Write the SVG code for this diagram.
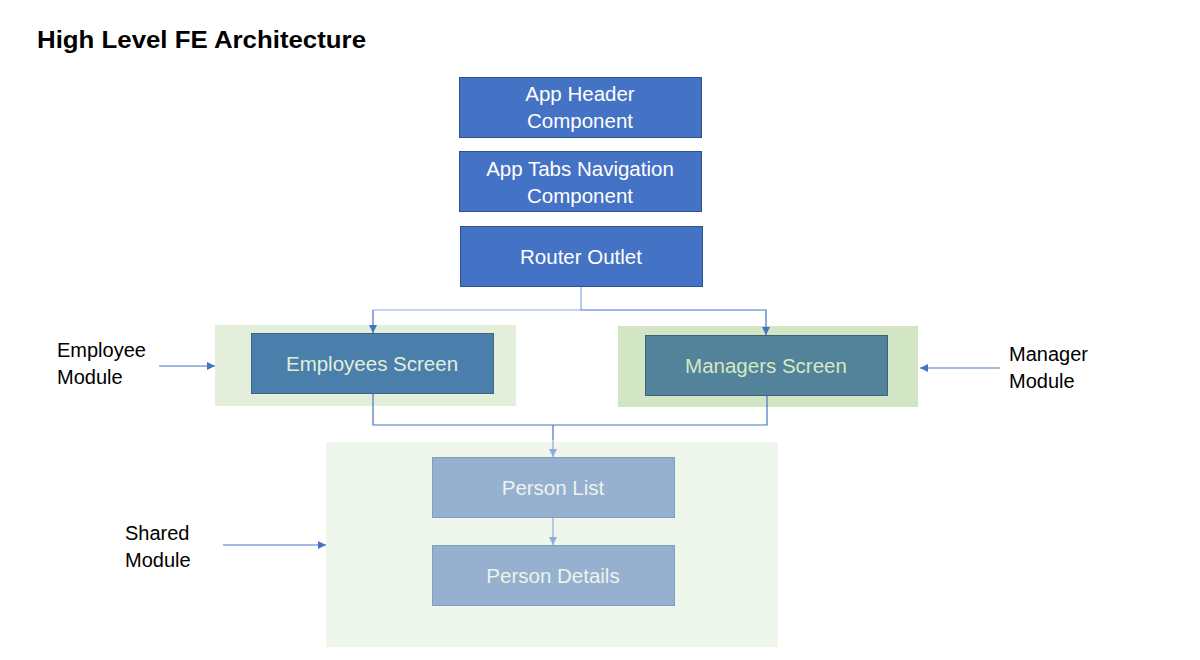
<svg xmlns="http://www.w3.org/2000/svg" width="1200" height="660" viewBox="0 0 1200 660">
<style>
text{font-family:"Liberation Sans","Noto Sans",Arial,sans-serif}
.title{font-size:24px;font-weight:bold;fill:#000}
.lbl{font-size:20px;fill:#000}
.bt{font-size:20.5px;fill:#fff;text-anchor:middle}
.top{fill:#4472C4;stroke:#2F528F;stroke-width:1}
.con{fill:none;stroke:#4472C4;stroke-width:1.2}
.conl{fill:none;stroke:#8FAADC;stroke-width:1.2}
</style>
<defs>
<marker id="ah" viewBox="0 0 10 10" refX="10" refY="5" markerWidth="8" markerHeight="8" markerUnits="userSpaceOnUse" orient="auto"><path d="M0,0L10,5L0,10z" fill="#4472C4"/></marker>
<marker id="ahl" viewBox="0 0 10 10" refX="10" refY="5" markerWidth="8" markerHeight="8" markerUnits="userSpaceOnUse" orient="auto"><path d="M0,0L10,5L0,10z" fill="#8FAADC"/></marker>
</defs>
<rect width="1200" height="660" fill="#fff"/>
<text class="title" x="37" y="48" textLength="329" lengthAdjust="spacingAndGlyphs">High Level FE Architecture</text>

<g id="employee-module">
<rect x="215" y="325" width="301" height="81" fill="#E3EFDB"/>
</g>
<g id="manager-module">
<rect x="618" y="326" width="300" height="81" fill="#D2E5C5"/>
</g>
<g id="shared-module">
<rect x="326" y="442" width="452" height="205" fill="#EFF6EC"/>
</g>

<g id="app-header">
<rect class="top" x="459.5" y="77.5" width="242" height="60"/>
<text class="bt" x="580" y="101">App Header</text>
<text class="bt" x="580" y="128">Component</text>
</g>
<g id="app-tabs">
<rect class="top" x="459.5" y="151.5" width="242" height="60"/>
<text class="bt" x="580" y="176">App Tabs Navigation</text>
<text class="bt" x="580" y="203">Component</text>
</g>
<g id="router-outlet">
<rect class="top" x="460.5" y="226.5" width="242" height="60"/>
<text class="bt" x="581" y="264">Router Outlet</text>
</g>
<g id="employees-screen">
<rect x="251.5" y="333.5" width="242" height="60" fill="#4A7EAB" stroke="#3C6584"/>
<text class="bt" x="372" y="371" style="fill:#E2EFDA">Employees Screen</text>
</g>
<g id="managers-screen">
<rect x="645.5" y="335.5" width="242" height="60" fill="#52839A" stroke="#3D6577"/>
<text class="bt" x="766" y="373" style="fill:#D5E8C4">Managers Screen</text>
</g>
<g id="person-list">
<rect x="432.5" y="457.5" width="242" height="60" fill="#95B1CF" stroke="#809EBE"/>
<text class="bt" x="553" y="495" style="fill:#EEF3EC">Person List</text>
</g>
<g id="person-details">
<rect x="432.5" y="545.5" width="242" height="60" fill="#95B1CF" stroke="#809EBE"/>
<text class="bt" x="553" y="583" style="fill:#EEF3EC">Person Details</text>
</g>

<g id="labels">
<text class="lbl" x="57" y="357">Employee</text>
<text class="lbl" x="57" y="384">Module</text>
<text class="lbl" x="1009" y="361">Manager</text>
<text class="lbl" x="1009" y="388">Module</text>
<text class="lbl" x="125" y="540">Shared</text>
<text class="lbl" x="125" y="567">Module</text>
</g>

<g id="connectors">
<path class="conl" d="M581,287V310H373"/>
<path class="con" d="M373,310V333" marker-end="url(#ah)"/>
<path class="con" d="M581,310H766V335" marker-end="url(#ah)"/>
<path class="con" d="M373,394V425H767V396"/>
<path class="con" d="M553,425V440"/>
<path class="conl" d="M553,440V457" marker-end="url(#ahl)"/>
<path class="conl" d="M553,518V545" marker-end="url(#ahl)"/>
<path class="con" d="M159,366H215" marker-end="url(#ah)"/>
<path class="con" d="M1000,368H920" marker-end="url(#ah)"/>
<path class="con" d="M223,545H326" marker-end="url(#ah)"/>
</g>
</svg>
